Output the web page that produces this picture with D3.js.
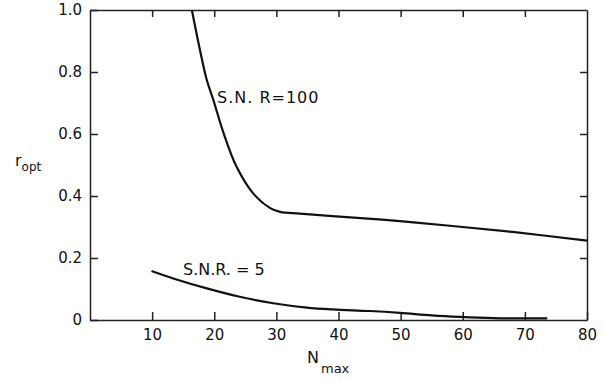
<!DOCTYPE html>
<html>
<head>
<meta charset="utf-8">
<script src="https://cdn.jsdelivr.net/npm/d3@7"></script>
<style>
    body { margin: 0; background: #fff; }
    svg text { font-family: "DejaVu Sans", sans-serif; fill: #111; }
</style>
</head>
<body>
<div id="chart"></div>
<script>
// curve readings (N_max, r_opt)
const snr100N = [16.4, 17.7, 18.8, 19.85, 21.5, 23.6, 26.2, 29.0, 30.6, 33.8, 41.9, 49.9, 57.9, 68, 80];
const snr100R = [1.0, 0.871, 0.774, 0.71, 0.603, 0.494, 0.41, 0.361, 0.349, 0.343, 0.331, 0.319, 0.304, 0.284, 0.256];
const snr5N = [9.9, 13.4, 18.8, 24.1, 29.5, 34.9, 39.1, 45, 49.9, 55, 59.6, 65, 70, 73.6];
const snr5R = [0.158, 0.134, 0.102, 0.075, 0.054, 0.04, 0.034, 0.029, 0.023, 0.015, 0.01, 0.006, 0.005, 0.005];

const xTicks = [10, 20, 30, 40, 50, 60, 70, 80];
const yTicks = [0, 0.2, 0.4, 0.6, 0.8, 1.0];

const width = 604, height = 381;
const margin = { top: 10, right: 17, bottom: 61, left: 90 };
const w = width - margin.left - margin.right;
const h = height - margin.top - margin.bottom;

const svg = d3.select("#chart").append("svg")
    .attr("width", width)
    .attr("height", height)
    .append("g")
    .attr("transform", `translate(${margin.left}, ${margin.top})`);

const x = d3.scaleLinear().domain([0, 80]).range([0, w]);
const y = d3.scaleLinear().domain([0, 1]).range([h, 0]);

// bottom axis, ticks pointing in
svg.append("g")
    .attr("transform", `translate(0, ${h})`)
    .call(d3.axisBottom(x).tickValues(xTicks).tickSizeInner(-8).tickSizeOuter(0).tickPadding(9)
        .tickFormat(d3.format("d")))
    .call(g => g.selectAll("text").style("font-size", "15px"));

// left axis
svg.append("g")
    .call(d3.axisLeft(y).tickValues(yTicks).tickSizeInner(-8).tickSizeOuter(0).tickPadding(8)
        .tickFormat(d => d === 0 ? "0" : d3.format(".1f")(d)))
    .call(g => g.selectAll("text").style("font-size", "15px"));

// top and right axes, ticks only
svg.append("g")
    .call(d3.axisTop(x).tickValues(xTicks.slice(0, -1)).tickSizeInner(-7).tickSizeOuter(0).tickFormat(""));
svg.append("g")
    .attr("transform", `translate(${w}, 0)`)
    .call(d3.axisRight(y).tickValues(yTicks.slice(1, -1)).tickSizeInner(-7).tickSizeOuter(0).tickFormat(""));

svg.selectAll(".domain, .tick line")
    .attr("stroke", "#222")
    .attr("stroke-width", 1.5);

const line = d3.line()
    .x(d => x(d[0]))
    .y(d => y(d[1]))
    .curve(d3.curveCatmullRom.alpha(0.5));

svg.append("path")
    .datum(snr100N.map((n, i) => [n, snr100R[i]]))
    .attr("fill", "none")
    .attr("stroke", "#111")
    .attr("stroke-width", 2.2)
    .attr("d", line);

svg.append("path")
    .datum(snr5N.map((n, i) => [n, snr5R[i]]))
    .attr("fill", "none")
    .attr("stroke", "#111")
    .attr("stroke-width", 2.2)
    .attr("d", line);

// curve labels
svg.append("text")
    .attr("x", 127)
    .attr("y", 93)
    .style("font-size", "16px")
    .style("letter-spacing", "1px")
    .text("S.N. R=100");

svg.append("text")
    .attr("x", 93)
    .attr("y", 265)
    .style("font-size", "16px")
    .text("S.N.R. = 5");

// axis titles
const yl = svg.append("text")
    .attr("x", -75)
    .attr("y", 156)
    .style("font-size", "16px");
yl.append("tspan").text("r");
yl.append("tspan").attr("dy", 5).style("font-size", "12px").text("opt");

const xl = svg.append("text")
    .attr("x", 217)
    .attr("y", 353)
    .style("font-size", "16px");
xl.append("tspan").text("N");
xl.append("tspan").attr("dx", 2).attr("dy", 10).style("font-size", "13px").text("max");
</script>
</body>
</html>
